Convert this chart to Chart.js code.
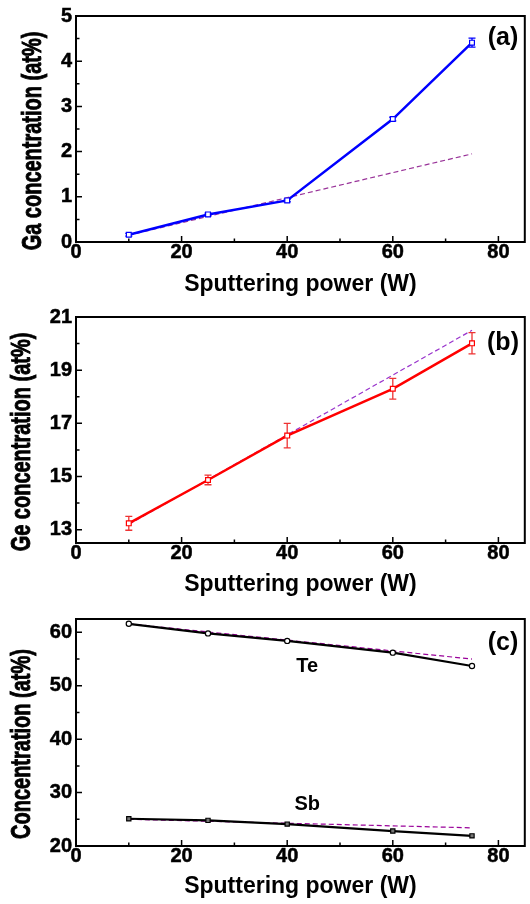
<!DOCTYPE html>
<html>
<head>
<meta charset="utf-8">
<script src="https://cdn.jsdelivr.net/npm/chart.js@4.4.1/dist/chart.umd.min.js"></script>
<style>
  body { margin: 0; background: #fff; }
  #wrap { position: relative; width: 530px; height: 904px; }
  canvas { position: absolute; left: 0; }
</style>
</head>
<body>
<div id="wrap">
  <canvas id="chartA" width="530" height="300" style="top:0"></canvas>
  <canvas id="chartB" width="530" height="300" style="top:300px"></canvas>
  <canvas id="chartC" width="530" height="304" style="top:600px"></canvas>
</div>
<script>
// sputtering power (W)
var power = [10, 25, 40, 60, 75];
var fitPower = [10, 75];
var xTicks = [0, 20, 40, 60, 80];

// (a) Ga
var gaConc = [0.16, 0.61, 0.92, 2.72, 4.41];
var gaErr = [0.03, 0.03, 0.03, 0.04, 0.1];
var gaFit = [0.15, 1.95];
var gaTicks = [0, 1, 2, 3, 4, 5];

// (b) Ge
var geConc = [13.24, 14.87, 16.54, 18.30, 20.01];
var geErr = [0.26, 0.18, 0.46, 0.39, 0.4];
var geFit = [13.2, 20.5];
var geTicks = [13, 15, 17, 19, 21];

// (c) Te and Sb
var teConc = [61.6, 59.8, 58.4, 56.2, 53.7];
var teFit = [61.6, 55.0];
var sbConc = [25.1, 24.8, 24.1, 22.8, 21.9];
var sbFit = [25.0, 23.4];
var concTicks = [20, 30, 40, 50, 60];

var FONT = "'Liberation Sans', Arial, sans-serif";
Chart.defaults.font.family = FONT;
Chart.defaults.color = '#000';

function pts(xs, ys) {
  return xs.map(function(x, i) { return { x: x, y: ys[i] }; });
}

function series(xs, ys, color, extra) {
  var ds = {
    data: pts(xs, ys),
    borderColor: color,
    borderWidth: 2.5,
    pointStyle: 'rect',
    pointRadius: 3.4,
    pointBorderWidth: 1.2,
    pointBorderColor: color,
    pointBackgroundColor: '#fff',
    order: 0
  };
  return Object.assign(ds, extra || {});
}

function fitLine(ys, color) {
  return {
    data: pts(fitPower, ys),
    borderColor: color,
    borderWidth: 1.2,
    borderDash: [5, 3],
    pointRadius: 0,
    order: 1
  };
}

// error bars under the lines
var errorBars = {
  id: 'errorBars',
  beforeDatasetsDraw: function(chart) {
    var ctx = chart.ctx, ys = chart.scales.y;
    chart.data.datasets.forEach(function(ds, i) {
      if (!ds.errors) return;
      var meta = chart.getDatasetMeta(i);
      ctx.save();
      ctx.strokeStyle = ds.errorColor || ds.borderColor;
      ctx.lineWidth = 1.3;
      ctx.beginPath();
      meta.data.forEach(function(p, j) {
        var v = ds.data[j].y, e = ds.errors[j];
        var t = ys.getPixelForValue(v + e), b = ys.getPixelForValue(v - e);
        ctx.moveTo(p.x, t); ctx.lineTo(p.x, b);
        ctx.moveTo(p.x - 3.5, t); ctx.lineTo(p.x + 3.5, t);
        ctx.moveTo(p.x - 3.5, b); ctx.lineTo(p.x + 3.5, b);
      });
      ctx.stroke();
      ctx.restore();
    });
  }
};

// box around the plot with inward major/minor ticks
var frame = {
  id: 'frame',
  afterDraw: function(chart) {
    var ctx = chart.ctx, a = chart.chartArea;
    var xs = chart.scales.x, ys = chart.scales.y;
    ctx.save();
    ctx.strokeStyle = '#000';
    ctx.lineWidth = 1.5;
    ctx.beginPath();
    xs.ticks.forEach(function(t, k) {
      var px = xs.getPixelForValue(t.value);
      ctx.moveTo(px, a.bottom); ctx.lineTo(px, a.bottom - 6);
      var next = xs.ticks[k + 1];
      if (next) {
        var mx = xs.getPixelForValue((t.value + next.value) / 2);
        ctx.moveTo(mx, a.bottom); ctx.lineTo(mx, a.bottom - 3.5);
      }
    });
    ys.ticks.forEach(function(t, k) {
      var py = ys.getPixelForValue(t.value);
      ctx.moveTo(a.left, py); ctx.lineTo(a.left + 6, py);
      var next = ys.ticks[k + 1];
      if (next) {
        var my = ys.getPixelForValue((t.value + next.value) / 2);
        ctx.moveTo(a.left, my); ctx.lineTo(a.left + 3.5, my);
      }
    });
    ctx.stroke();
    ctx.lineWidth = 2;
    ctx.strokeRect(a.left, a.top, a.right - a.left, a.bottom - a.top);
    ctx.restore();
  }
};

// panel letter, rotated y title and in-plot notes
var panelText = {
  id: 'panel',
  afterDraw: function(chart, args, o) {
    var ctx = chart.ctx;
    ctx.save();
    ctx.fillStyle = '#000';
    ctx.strokeStyle = '#000';
    ctx.textAlign = 'center';
    ctx.textBaseline = 'middle';
    ctx.font = 'bold 25px ' + FONT;
    ctx.fillText(o.label, o.labelX, o.labelY);

    ctx.save();
    ctx.translate(o.titleX, o.titleY);
    ctx.rotate(-Math.PI / 2);
    ctx.scale(0.74, 1);
    ctx.font = 'bold 27px ' + FONT;
    ctx.lineWidth = 0.9;
    ctx.fillText(o.title, 0, 0);
    ctx.strokeText(o.title, 0, 0);
    ctx.restore();

    ctx.font = 'bold 20px ' + FONT;
    (o.notes || []).forEach(function(n) {
      ctx.fillText(n.text, chart.scales.x.getPixelForValue(n.x), chart.scales.y.getPixelForValue(n.y));
    });
    ctx.restore();
  }
};

function makeChart(id, datasets, y, layout, panel) {
  var tickFont = { size: 20, weight: 'bold', lineHeight: 1 };
  return new Chart(document.getElementById(id), {
    type: 'line',
    data: { datasets: datasets },
    plugins: [errorBars, frame, panelText],
    options: {
      responsive: false,
      animation: false,
      events: [],
      layout: { padding: { top: layout.top, right: 2, left: 0, bottom: 0 } },
      plugins: {
        legend: { display: false },
        tooltip: { enabled: false },
        panel: panel
      },
      scales: {
        x: {
          type: 'linear',
          min: 0,
          max: 85,
          afterBuildTicks: function(s) { s.ticks = xTicks.map(function(v) { return { value: v }; }); },
          afterFit: function(s) { s.height = layout.xHeight; },
          grid: { display: false, drawTicks: false },
          border: { display: false },
          ticks: { font: tickFont, padding: 0, maxRotation: 0, autoSkip: false,
                   textStrokeColor: '#000', textStrokeWidth: 0.5 },
          title: {
            display: true,
            text: 'Sputtering power (W)',
            font: { size: 23, weight: 'bold', lineHeight: 1.2 },
            padding: { top: 0, bottom: layout.titlePad }
          }
        },
        y: {
          type: 'linear',
          min: y.min,
          max: y.max,
          afterBuildTicks: function(s) { s.ticks = y.ticks.map(function(v) { return { value: v }; }); },
          afterFit: function(s) { s.width = 76; },
          grid: { display: false, drawTicks: false },
          border: { display: false },
          ticks: { font: tickFont, padding: 4, autoSkip: false,
                   textStrokeColor: '#000', textStrokeWidth: 0.5 }
        }
      }
    }
  });
}

makeChart('chartA', [
  series(power, gaConc, '#0000ff', { errors: gaErr }),
  fitLine(gaFit, '#993399')
], { min: 0, max: 5, ticks: gaTicks }, { top: 16, xHeight: 58, titlePad: 1.2 },
{ label: '(a)', labelX: 503, labelY: 38, title: 'Ga concentration (at%)', titleX: 34, titleY: 141 });

makeChart('chartB', [
  series(power, geConc, '#ff0000', { errors: geErr, errorColor: '#ee3333' }),
  fitLine(geFit, '#9933cc')
], { min: 12.5, max: 21, ticks: geTicks }, { top: 17, xHeight: 57, titlePad: 1.2 },
{ label: '(b)', labelX: 503, labelY: 43, title: 'Ge concentration (at%)', titleX: 23, titleY: 142 });

makeChart('chartC', [
  series(power, teConc, '#000000', { borderWidth: 2.2, pointStyle: 'circle', pointRadius: 2.6 }),
  series(power, sbConc, '#000000', { borderWidth: 2.2, pointRadius: 3, pointBackgroundColor: '#777' }),
  fitLine(teFit, '#990099'),
  fitLine(sbFit, '#990099')
], { min: 20, max: 62.5, ticks: concTicks }, { top: 19, xHeight: 58, titlePad: 3.5 },
{ label: '(c)', labelX: 503, labelY: 43, title: 'Concentration (at%)', titleX: 23, titleY: 144,
  notes: [{ text: 'Te', x: 43.8, y: 53.7 }, { text: 'Sb', x: 43.8, y: 27.8 }] });
</script>
</body>
</html>
